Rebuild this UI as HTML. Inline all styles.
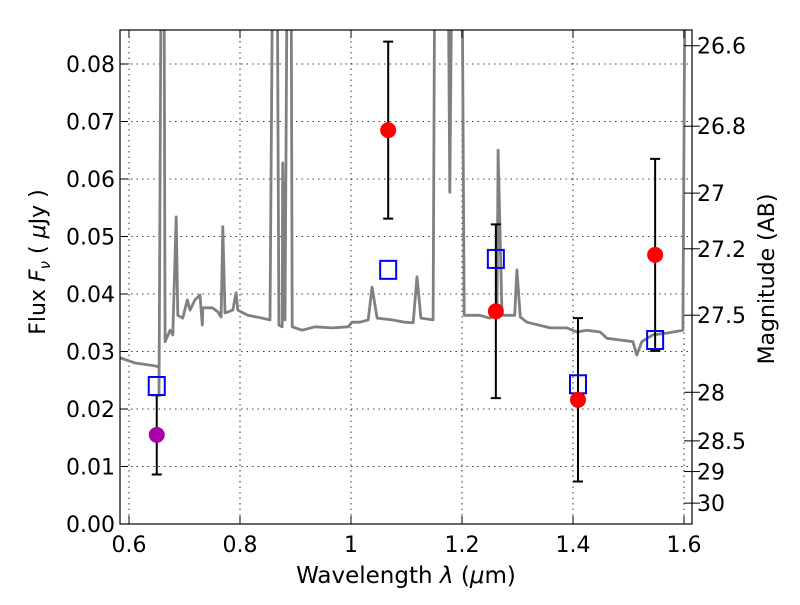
<!DOCTYPE html>
<html><head><meta charset="utf-8"><style>
body{margin:0;background:#fff}
svg text{font-family:"DejaVu Sans","Liberation Sans",sans-serif;fill:#000}
</style></head><body>
<svg id="chart" width="800" height="600" viewBox="0 0 800 600">
<defs><clipPath id="clip"><rect x="120" y="30" width="572" height="494"/></clipPath></defs>
<rect width="800" height="600" fill="#fff"/>
<g id="grid"></g>
<g id="spec" clip-path="url(#clip)"></g>
<g id="marks" clip-path="url(#clip)"></g>
<rect x="120" y="30" width="572" height="494" fill="none" stroke="#000" stroke-width="1.2"/>
<g id="axes"></g>
<text x="406" y="583" font-size="23" text-anchor="middle">Wavelength  <tspan font-style="italic">λ</tspan> (<tspan font-style="italic">μ</tspan>m)</text>
<text transform="translate(45,262) rotate(-90)" font-size="22" text-anchor="middle">Flux  <tspan font-style="italic">F</tspan><tspan font-style="italic" font-size="15" dy="5">ν</tspan><tspan dy="-5">  (  </tspan><tspan font-style="italic">μ</tspan>Jy )</text>
<text transform="translate(774,279) rotate(-90)" font-size="22" text-anchor="middle">Magnitude (AB)</text>
</svg>
<script>
const specWave=[0.584,0.611,0.647,0.654,0.654,0.658,0.663,0.665,0.674,0.679,0.685,0.688,0.697,0.705,0.710,0.719,0.728,0.732,0.733,0.750,0.760,0.766,0.769,0.773,0.787,0.793,0.796,0.814,0.840,0.854,0.859,0.867,0.870,0.876,0.877,0.881,0.885,0.892,0.894,0.912,0.935,0.966,0.995,1.002,1.016,1.031,1.038,1.047,1.074,1.097,1.112,1.119,1.126,1.148,1.151,1.175,1.178,1.182,1.200,1.204,1.232,1.250,1.263,1.265,1.272,1.295,1.299,1.305,1.317,1.359,1.389,1.407,1.425,1.449,1.461,1.485,1.508,1.515,1.524,1.544,1.569,1.598,1.602,1.614];
const specFlux=[0.0289,0.0280,0.0275,0.0273,0.0224,0.1,0.1,0.0317,0.0337,0.0329,0.0534,0.0363,0.0358,0.0390,0.0372,0.0390,0.0398,0.0346,0.0376,0.0376,0.0369,0.0360,0.0517,0.0367,0.0372,0.0402,0.0372,0.0363,0.0358,0.0355,0.1,0.1,0.0346,0.0343,0.0628,0.0355,0.1,0.1,0.0343,0.0337,0.0343,0.0341,0.0343,0.0351,0.0351,0.0355,0.0412,0.0358,0.0355,0.0351,0.0350,0.0430,0.0358,0.0355,0.1,0.1,0.0577,0.1,0.1,0.0363,0.0363,0.0358,0.0363,0.0650,0.0363,0.0363,0.0442,0.0360,0.0351,0.0341,0.0341,0.0334,0.0337,0.0334,0.0323,0.0320,0.0317,0.0294,0.0317,0.0329,0.0332,0.0337,0.1,0.1];
const obsWave=[0.650,1.067,1.261,1.409,1.548];
const obsFlux=[0.0155,0.0685,0.0370,0.0216,0.0468];
const obsErr=[0.0069,0.0154,0.0151,0.0142,0.0167];
const obsColor=["#aa00aa","red","red","red","red"];
const modelFlux=[0.0240,0.0442,0.0461,0.0243,0.0320];
const xTicks=[0.6,0.8,1.0,1.2,1.4,1.6];
const xTickLabels=["0.6","0.8","1","1.2","1.4","1.6"];
const yTicks=[0,0.01,0.02,0.03,0.04,0.05,0.06,0.07,0.08];
const magTicks=[26.6,26.8,27,27.2,27.5,28,28.5,29,30];
const magLabels=["26.6","26.8","27","27.2","27.5","28","28.5","29","30"];
const X=w=>129+(w-0.6)*555;
const Y=f=>524-f*5750;
const magToFlux=m=>Math.pow(10,(23.9-m)/2.5);
const NS="http://www.w3.org/2000/svg";
function mk(tag,attrs,parent){const e=document.createElementNS(NS,tag);for(const k in attrs)e.setAttribute(k,attrs[k]);parent.appendChild(e);return e;}
const grid=document.getElementById('grid'),axes=document.getElementById('axes'),spec=document.getElementById('spec'),marks=document.getElementById('marks');
xTicks.forEach((v,i)=>{const x=X(v);
 const g=mk('line',{x1:x,x2:x,y1:30,y2:524,stroke:'#000','stroke-width':0.8,'stroke-dasharray':'1.5,4'},grid);
 
 
 const t1=mk('line',{x1:x,x2:x,y1:524,y2:516,stroke:'#000'},axes);
 
 
 const t2=mk('line',{x1:x,x2:x,y1:30,y2:38,stroke:'#000'},axes);
 
 
 const l=mk('text',{x:x,y:552,'font-size':22,'text-anchor':'middle'},axes);l.textContent=xTickLabels[i];
 
 
});
yTicks.forEach(v=>{const y=Y(v);
 const g=mk('line',{x1:120,x2:692,y1:y,y2:y,stroke:'#000','stroke-width':0.8,'stroke-dasharray':'1.5,4'},grid);
 
 
 const t=mk('line',{x1:120,x2:128,y1:y,y2:y,stroke:'#000'},axes);
 
 
 const l=mk('text',{x:115,y:y+8,'font-size':22,'text-anchor':'end'},axes);l.textContent=v.toFixed(2);
 
 
});
magTicks.forEach((m,i)=>{const y=Y(magToFlux(m));
 const t=mk('line',{x1:684,x2:700,y1:y,y2:y,stroke:'#000'},axes);
 
 
 const l=mk('text',{x:697,y:y+8,'font-size':22},axes);l.textContent=magLabels[i];
 
 
});
const pts=specWave.map((w,i)=>X(w).toFixed(1)+','+Y(specFlux[i]).toFixed(1)).join(' ');
const pl=mk('polyline',{points:pts,fill:'none',stroke:'#808080','stroke-width':2.8,'stroke-linejoin':'round'},spec);


obsWave.forEach((w,i)=>{const x=X(w);
 const y1=Y(obsFlux[i]+obsErr[i]),y2=Y(obsFlux[i]-obsErr[i]);
 const e=mk('path',{d:`M${x},${y1}V${y2}M${x-5},${y1}H${x+5}M${x-5},${y2}H${x+5}`,stroke:'#000','stroke-width':2,fill:'none'},marks);
 
 
 const s=mk('rect',{x:x-8,y:Y(modelFlux[i])-9,width:16,height:18,fill:'none',stroke:'#0000ff','stroke-width':2},marks);
 
 
 const c=mk('circle',{cx:x,cy:Y(obsFlux[i]),r:8,fill:obsColor[i]},marks);
 
 
});
</script>
</body></html>
